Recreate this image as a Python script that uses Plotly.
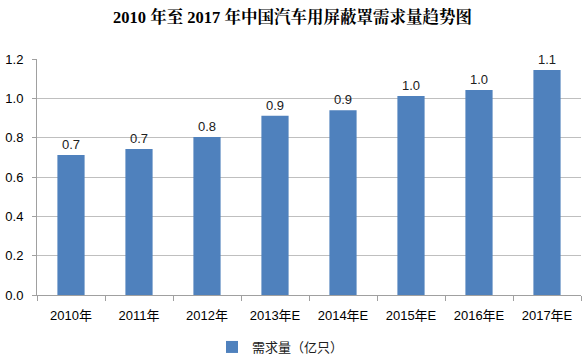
import plotly.graph_objects as go

categories = ["2010年", "2011年", "2012年", "2013年E", "2014年E", "2015年E", "2016年E", "2017年E"]
values = [0.712, 0.742, 0.803, 0.912, 0.940, 1.012, 1.042, 1.144]
series_name = "需求量（亿只）"
title_text = "2010 年至 2017 年中国汽车用屏蔽罩需求量趋势图"
y_ticks = [0.0, 0.2, 0.4, 0.6, 0.8, 1.0, 1.2]

FONT = "Liberation Sans, Noto Sans CJK SC, sans-serif"

W, H = 585, 357

fig = go.Figure(
    go.Bar(
        x=categories,
        y=values,
        name=series_name,
        marker=dict(color="#4F81BD", line=dict(width=0)),
        width=0.4,
        text=values,
        texttemplate="%{y:.1f}",
        textposition="outside",
        textfont=dict(family=FONT, size=13, color="#202020"),
        cliponaxis=False,
        showlegend=True,
    )
)

fig.update_layout(
    width=W,
    height=H,
    margin=dict(l=37, r=4, t=59, b=62, autoexpand=False),
    paper_bgcolor="white",
    plot_bgcolor="white",
    font=dict(family=FONT, size=13, color="#202020"),
    title=dict(
        text="<b>" + title_text + "</b>",
        font=dict(family="Liberation Serif, Noto Serif CJK SC, Noto Sans CJK SC, serif", size=16.5, color="#000000"),
        x=0.5,
        xanchor="center",
        xref="container",
        y=1 - 17.5 / H,
        yref="container",
        yanchor="middle",
        automargin=False,
    ),
    legend=dict(
        orientation="h",
        xref="container",
        x=212 / W,
        xanchor="left",
        yref="container",
        y=1 - 347 / H,
        yanchor="middle",
        font=dict(family=FONT, size=13, color="#202020"),
        itemwidth=30,
    ),
    bargap=0.6,
)

fig.update_xaxes(
    type="category",
    automargin=False,
    showline=True,
    linecolor="#a0a0a0",
    linewidth=1,
    ticks="outside",
    tickson="boundaries",
    ticklen=5,
    tickcolor="#a0a0a0",
    showgrid=False,
    tickfont=dict(family=FONT, size=13, color="#000000"),
    ticklabelstandoff=8,
)

fig.update_yaxes(
    automargin=False,
    range=[0, 1.2],
    tickvals=y_ticks,
    tickformat=".1f",
    showline=True,
    linecolor="#a0a0a0",
    linewidth=1,
    ticks="outside",
    ticklen=4,
    tickcolor="#a0a0a0",
    showgrid=True,
    gridcolor="#bfbfbf",
    gridwidth=1,
    zeroline=False,
    tickfont=dict(family=FONT, size=13, color="#000000"),
    ticklabelstandoff=6,
)

fig.write_html(
    "out.html",
    config={"displayModeBar": False},
    post_script="document.body.style.margin='0px';document.body.style.overflow='hidden';",
)
